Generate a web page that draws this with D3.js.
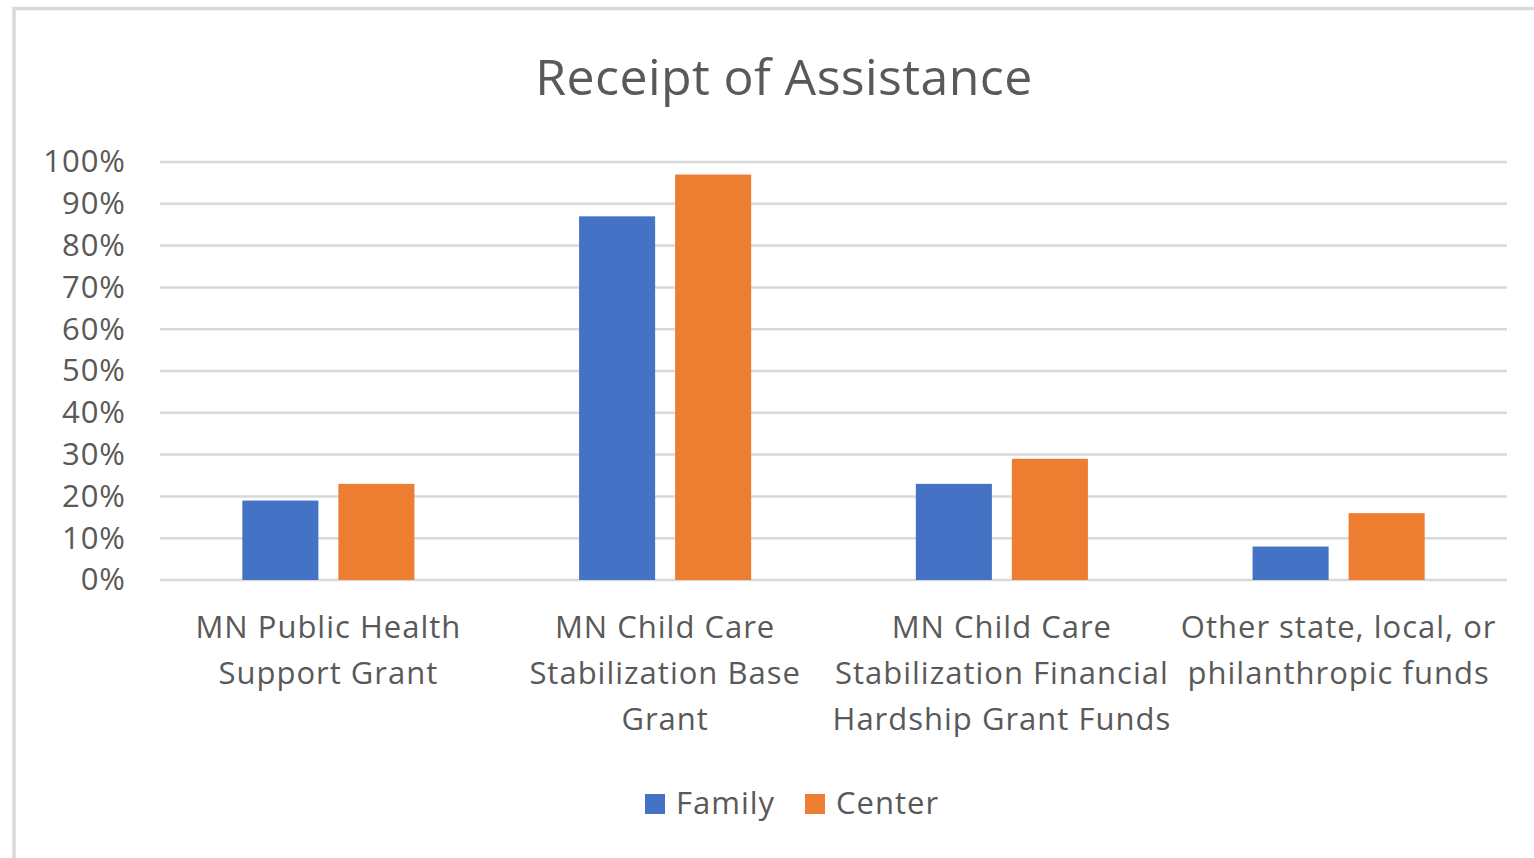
<!DOCTYPE html>
<html>
<head>
<meta charset="utf-8">
<style>
body { margin: 0; background: #fff; }
text { font-family: "Open Sans", "Noto Sans", sans-serif; fill: #595959; }
</style>
</head>
<body>
<svg id="viz"></svg>
<script src="https://d3js.org/d3.v7.min.js"></script>
<script>
var width = 1534;
var height = 858;

// chart data
var categories = [
  ["MN Public Health", "Support Grant"],
  ["MN Child Care", "Stabilization Base", "Grant"],
  ["MN Child Care", "Stabilization Financial", "Hardship Grant Funds"],
  ["Other state, local, or", "philanthropic funds"]
];
var seriesNames = ["Family", "Center"];
var family = [0.19, 0.87, 0.23, 0.08];
var center = [0.23, 0.97, 0.29, 0.16];
var yTicks = [0, 0.1, 0.2, 0.3, 0.4, 0.5, 0.6, 0.7, 0.8, 0.9, 1.0];
var colors = ["#4472C4", "#ED7D31"];

var rows = categories.map(function(c, i) {
  return { label: c, values: [family[i], center[i]] };
});

var svg = d3.select("#viz").attr("width", width).attr("height", height);

// chart frame (only top and left visible in the shot)
svg.append("line").attr("x1", 14).attr("x2", width).attr("y1", 8.5).attr("y2", 8.5)
  .attr("stroke", "#d9d9d9").attr("stroke-width", 3.5);
svg.append("line").attr("x1", 14).attr("x2", 14).attr("y1", 7).attr("y2", height)
  .attr("stroke", "#d9d9d9").attr("stroke-width", 3.5);

svg.append("text")
  .attr("x", 784).attr("y", 95)
  .attr("text-anchor", "middle")
  .style("font-size", "50px")
  .style("letter-spacing", "0.4px")
  .text("Receipt of Assistance");

var plotLeft = 160, plotRight = 1507, plotTop = 162, plotBottom = 580;

var y = d3.scaleLinear().domain([0, 1]).range([plotBottom, plotTop]);

var x0 = d3.scaleBand()
  .domain(d3.range(categories.length))
  .range([plotLeft, plotRight])
  .paddingInner(0.489)
  .paddingOuter(0.2445);

var x1 = d3.scaleBand()
  .domain(seriesNames)
  .range([0, x0.bandwidth()])
  .paddingInner(0.208);

// gridlines
svg.append("g")
  .selectAll("line")
  .data(yTicks)
  .enter()
  .append("line")
  .attr("x1", plotLeft).attr("x2", plotRight)
  .attr("y1", function(d) { return y(d); })
  .attr("y2", function(d) { return y(d); })
  .attr("stroke", "#d9d9d9")
  .attr("stroke-width", 2.5);

// y axis labels
var yAxis = d3.axisLeft(y).tickValues(yTicks).tickFormat(d3.format(".0%")).tickSize(0).tickPadding(0);
var yg = svg.append("g").attr("transform", "translate(126,0)").call(yAxis);
yg.select(".domain").remove();
yg.selectAll("text")
  .attr("fill", "#595959")
  .style("font-size", "31px")
  .style("letter-spacing", "1px")
  .style("font-family", "'Open Sans', 'Noto Sans', sans-serif");

// bars
var groups = svg.append("g")
  .selectAll("g")
  .data(rows)
  .enter()
  .append("g")
  .attr("transform", function(d, i) { return "translate(" + x0(i) + ",0)"; });

groups.selectAll("rect")
  .data(function(d) { return d.values.map(function(v, j) { return { key: seriesNames[j], value: v, idx: j }; }); })
  .enter()
  .append("rect")
  .attr("x", function(d) { return x1(d.key); })
  .attr("width", x1.bandwidth())
  .attr("y", function(d) { return y(d.value); })
  .attr("height", function(d) { return y(0) - y(d.value); })
  .attr("fill", function(d) { return colors[d.idx]; });

// category labels
var catLabels = svg.append("g")
  .selectAll("text")
  .data(rows)
  .enter()
  .append("text")
  .attr("text-anchor", "middle")
  .style("font-size", "31px")
  .style("letter-spacing", "1px")
  .attr("x", function(d, i) { return x0(i) + x0.bandwidth() / 2; })
  .attr("y", 638);

catLabels.selectAll("tspan")
  .data(function(d) { return d.label; })
  .enter()
  .append("tspan")
  .attr("x", function() { return d3.select(this.parentNode).attr("x"); })
  .attr("dy", function(d, i) { return i == 0 ? 0 : 46; })
  .text(function(d) { return d; });

// legend
var legendX = [645, 805];
var legend = svg.append("g")
  .selectAll("g")
  .data(seriesNames)
  .enter()
  .append("g")
  .attr("transform", function(d, i) { return "translate(" + legendX[i] + ",794)"; });

legend.append("rect")
  .attr("width", 20).attr("height", 20)
  .attr("fill", function(d, i) { return colors[i]; });

legend.append("text")
  .attr("x", 31).attr("y", 20)
  .style("font-size", "31px")
  .style("letter-spacing", "1px")
  .text(function(d) { return d; });
</script>
</body>
</html>
